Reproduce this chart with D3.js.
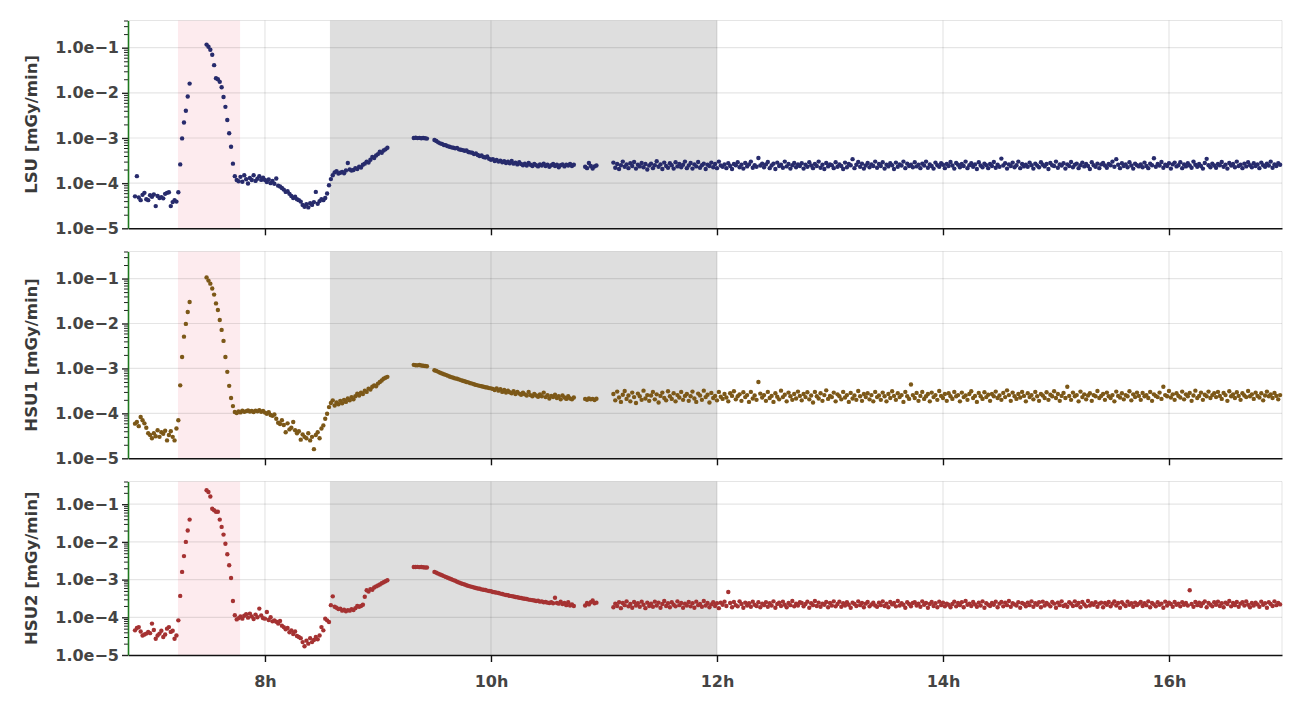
<!DOCTYPE html>
<html>
<head>
<meta charset="utf-8">
<script src="https://cdn.jsdelivr.net/npm/d3@7"></script>
<style>
  body { margin: 0; background: #fff; }
</style>
</head>
<body>
<svg id="chart" width="1300" height="707"></svg>
<script>
// one sample per minute, values in nGy/min (1 nGy = 1e-6 mGy)
// minute of day at which each uninterrupted run of samples begins
var segStart = [411, 449, 559, 570, 650, 665];

var lsu = [
  [51,143,48,42,55,61,44,42,54,50,56,31,52,47,49,46,58,61,63,31,38,42,39,63,260,980,2200,4000,8300,16000],
  [117000,105000,90000,70000,41000,21000,20000,17500,13300,8100,4900,2500,1270,640,270,143,117,
   110,138,107,150,122,98,130,117,150,112,125,143,118,132,117,
   106,120,100,112,97,127,88,84,78,72,64,66,58,52,47,50,44,42,
   39,33,30,34,29,36,33,38,64,35,40,44,42,47,
   59,90,123,150,173,185,164,170,178,165,190,280,200,190,195,215,205,230,222,255,270,300,285,330,380,360,410,440,500,470,530,560,610],
  [1000,1010,995,1005,990,1000,985,970],
  [900,860,800,760,740,700,690,660,640,620,610,590,600,560,550,540,520,530,490,480,
   470,440,455,420,400,410,380,370,390,345,330,340,310,325,300,315,290,305,280,300,
   275,310,270,285,260,290,265,250,270,245,280,255,240,265,250,235,260,245,270,240,
   255,230,250,265,240,255,225,250,260,235,255,245,265,240,255],
  [230,215,280,240,210,235,245],
  [285,220,265,205,250,300,230,260,215,275,240,295,210,255,235,280,225,265,200,245,
   270,215,250,305,230,260,205,285,240,220,275,250,210,290,235,265,225,255,300,215,
   245,280,210,260,235,295,220,250,270,205,255,240,285,225,265,215,300,245,230,260,
   215,275,240,205,265,250,290,225,255,210,280,235,260,300,220,250,230,360,245,270,
   225,260,295,215,245,270,205,285,240,255,220,300,235,265,210,250,280,225,260,240,
   275,210,255,230,290,245,215,265,240,300,220,255,205,280,235,260,250,215,290,230,
   260,240,205,285,225,265,250,340,215,255,295,230,270,210,245,280,225,260,240,300,
   220,265,240,290,210,255,235,275,250,205,285,230,260,245,300,215,270,240,255,225,
   290,235,255,215,270,245,300,220,260,240,210,285,250,230,275,255,215,265,240,295,
   245,210,280,255,225,265,240,300,215,250,275,230,260,205,290,245,225,270,250,215,
   265,240,295,220,255,230,350,245,275,210,260,240,285,225,250,300,215,265,235,255,
   230,285,250,210,270,245,225,290,255,235,265,205,280,250,240,300,220,260,245,275,
   210,260,240,295,225,255,270,215,250,285,235,265,240,205,290,250,230,270,215,260,
   280,245,220,265,250,300,230,340,255,215,275,240,260,225,290,245,210,270,250,235,
   260,225,285,240,215,270,250,355,230,265,245,295,220,255,240,275,210,260,285,235,
   250,290,215,260,235,275,245,220,300,255,230,265,240,210,280,345,250,225,270,245,
   220,265,250,295,230,255,210,280,245,265,225,300,240,255,215,270,235,290,250,225,
   275,240,260,215,285,250,230,270,245,300,220,260,240,275,255]
];

var hsu1 = [
  [59,64,52,83,70,60,48,36,33,28,36,31,42,30,38,35,41,25,33,40,30,25,46,70,420,1800,5100,9800,18000,30000],
  [106000,90000,77000,60000,44000,28000,20000,12000,7200,4100,1800,840,410,220,145,107,102,
   110,105,114,108,112,116,110,113,107,115,111,117,109,113,104,
   98,106,92,88,94,76,62,58,70,55,38,60,44,48,64,42,36,40,
   26,34,30,28,36,25,30,16,33,38,28,46,54,76,
   98,138,170,195,150,175,160,190,168,200,180,215,195,230,205,240,275,250,290,270,320,300,355,340,390,420,400,460,500,540,590,620,650],
  [1200,1180,1170,1190,1160,1150,1130,1120],
  [910,880,840,800,770,740,720,690,660,640,620,600,590,570,550,530,520,500,490,470,
   460,445,430,420,410,400,390,380,375,365,360,350,330,360,320,345,300,330,290,320,
   295,280,310,270,300,275,260,290,265,250,300,255,240,270,250,235,265,240,290,230,
   255,215,245,230,260,220,240,205,250,225,210,240,215,205,225],
  [210,200,215,205,210,198,212],
  [270,195,305,225,180,260,315,210,250,185,290,230,170,275,240,200,320,215,255,190,
   250,300,205,265,175,245,290,220,195,310,240,210,280,185,255,225,300,200,245,270,
   190,240,305,215,180,275,250,200,320,230,260,175,285,220,245,195,300,235,210,270,
   225,185,280,245,310,205,240,265,190,295,230,255,180,300,215,250,200,500,275,225,
   255,190,300,220,245,180,280,235,205,320,230,260,185,290,240,200,270,215,305,245,
   195,270,230,295,205,250,175,300,240,215,280,190,255,325,210,245,230,290,185,265,
   240,205,300,225,255,180,285,215,250,200,315,240,190,270,230,280,205,255,185,300,
   230,250,200,290,240,185,270,220,310,245,200,280,230,255,180,300,240,210,440,255,
   220,285,190,245,300,210,240,270,185,290,230,255,200,315,245,220,270,190,280,240,
   210,300,240,255,185,290,230,250,200,270,310,220,245,180,285,240,210,295,230,260,
   190,270,240,305,220,250,200,285,230,325,255,190,290,240,210,270,225,300,245,185,
   280,230,255,205,300,240,190,270,250,220,295,200,260,240,310,220,270,190,245,285,
   220,390,245,200,290,240,255,185,305,230,265,205,250,280,190,255,240,315,220,245,
   270,200,290,240,220,255,185,305,245,225,280,205,255,240,310,195,265,230,290,245,
   200,285,240,255,220,300,190,265,245,230,290,210,390,255,240,315,225,265,200,280,
   245,225,305,205,265,240,285,190,250,320,220,245,290,200,260,240,305,220,255,280,
   230,300,245,210,285,255,190,310,240,265,220,295,245,200,280,250,230,315,240,265,
   210,290,245,225,280,195,250,305,240,265,220,285,245,205,255]
];

var hsu2 = [
  [45,52,55,42,33,35,37,41,38,68,46,27,33,37,44,30,35,50,55,41,44,27,33,83,370,1600,4200,10000,20000,39000],
  [234000,210000,160000,76000,69000,63000,63000,39000,25000,15600,8900,4700,2400,1100,270,113,88,
   95,105,92,110,120,98,125,105,90,118,100,170,112,95,92,
   138,85,100,78,82,76,68,80,60,55,48,52,40,45,36,42,32,30,
   28,22,17,24,20,28,22,25,30,26,33,55,45,92,
   83,75,210,360,190,180,165,170,150,160,145,155,150,165,155,175,200,190,200,215,350,520,480,560,540,620,660,700,740,800,850,900,960],
  [2160,2150,2170,2140,2150,2120,2100,2090],
  [1600,1520,1440,1370,1300,1240,1180,1120,1070,1020,970,930,880,840,800,770,740,710,680,660,
   640,620,600,580,570,550,540,530,510,500,490,470,460,450,440,425,415,400,390,385,
   370,365,355,345,340,330,325,315,310,305,295,290,285,280,270,275,260,265,250,255,
   245,240,250,235,330,240,230,260,225,240,210,250,205,220,200],
  [205,240,220,250,280,235,245],
  [185,230,200,250,175,240,210,265,195,225,180,255,205,235,190,260,215,175,245,200,
   230,190,260,205,245,180,225,270,200,235,185,250,215,195,265,210,240,180,230,205,
   255,195,235,180,260,210,225,190,270,205,240,185,220,250,200,235,175,245,215,260,
   200,470,240,185,255,210,195,265,225,180,245,205,235,190,260,215,200,250,185,230,
   210,250,190,235,205,265,180,225,245,200,260,215,185,240,210,270,195,230,205,250,
   240,195,225,260,180,235,210,270,200,245,190,230,215,255,185,240,205,265,195,225,
   260,190,235,205,250,215,180,245,225,200,265,210,240,185,230,255,195,220,245,205,
   190,245,210,265,200,230,185,255,220,240,195,270,205,235,215,180,250,225,195,240,
   250,205,230,190,265,215,240,180,225,255,200,235,185,260,210,245,195,230,215,185,
   225,260,195,240,210,250,185,270,215,230,200,255,220,190,245,205,265,180,235,215,
   200,240,215,260,185,230,255,195,245,210,270,190,235,220,205,250,180,240,225,195,
   245,210,265,190,235,215,250,185,260,205,240,220,195,255,230,180,245,210,265,200,
   215,190,250,230,200,265,210,240,185,255,220,195,270,205,235,215,250,190,230,245,
   185,240,215,255,195,230,265,205,240,180,250,220,200,260,215,235,190,245,210,230,
   255,200,235,210,265,185,240,220,195,250,215,230,180,260,205,245,225,190,255,215,
   230,195,250,215,240,205,520,225,190,255,210,245,200,235,265,185,240,215,195,250,
   215,260,200,235,185,245,225,270,195,240,210,255,190,230,250,205,265,215,185,240,
   205,245,220,190,260,215,235,180,250,225,200,265,210,240,220]
];

var seriesNames = ["LSU [mGy/min]", "HSU1 [mGy/min]", "HSU2 [mGy/min]"];
var seriesColors = ["#272b6c", "#7c5818", "#a53232"];
var hourTicks = [8, 10, 12, 14, 16];
var hourLabels = ["8h", "10h", "12h", "14h", "16h"];
var decadeTicks = [1e-5, 1e-4, 1e-3, 1e-2, 1e-1];
var decadeLabels = ["1.0e\u22125", "1.0e\u22124", "1.0e\u22123", "1.0e\u22122", "1.0e\u22121"];
var pinkBand = [7.23, 7.78];   // hours
var greyBand = [8.575, 12.0];  // hours

var allSeries = [lsu, hsu1, hsu2];

function toPoints(segs) {
    var pts = [];
    segs.forEach(function(seg, s) {
        seg.forEach(function(v, i) {
            pts.push({hour: (segStart[s] + i) / 60, value: v * 1e-6});
        });
    });
    return pts;
}

var left = 128, right = 1282;
var panels = [
    {top: 20.5, bottom: 228.3},
    {top: 251.5, bottom: 458.3},
    {top: 481.5, bottom: 655}
];

var svg = d3.select("#chart");
var font = "DejaVu Sans";

var x = d3.scaleLinear()
    .domain([6.788, 17.0])
    .range([left, right]);

// minor ticks 2..9 in every decade, plus 0.2-0.4 above the top label
var minorTicks = [];
decadeTicks.forEach(function(d) {
    for (var k = 2; k <= 9; k++) {
        if (d * k <= 0.4 + 1e-9) minorTicks.push(d * k);
    }
});

panels.forEach(function(p, n) {
    var g = svg.append("g");

    var y = d3.scaleLog()
        .domain([1e-5, 0.4])
        .range([p.bottom, p.top]);

    // shaded periods
    g.append("rect")
        .attr("x", x(pinkBand[0]))
        .attr("y", p.top)
        .attr("width", x(pinkBand[1]) - x(pinkBand[0]))
        .attr("height", p.bottom - p.top)
        .attr("fill", "#fdebee");

    g.append("rect")
        .attr("x", x(greyBand[0]))
        .attr("y", p.top)
        .attr("width", x(greyBand[1]) - x(greyBand[0]))
        .attr("height", p.bottom - p.top)
        .attr("fill", "#dedede");

    // grid
    g.selectAll(".hgrid")
        .data(decadeTicks.slice(1))
        .enter().append("line")
        .attr("x1", left).attr("x2", right)
        .attr("y1", function(d) { return y(d); })
        .attr("y2", function(d) { return y(d); })
        .attr("stroke", "rgba(0,0,0,0.1)")
        .attr("stroke-width", 1.2);

    g.selectAll(".vgrid")
        .data(hourTicks)
        .enter().append("line")
        .attr("x1", function(d) { return x(d); })
        .attr("x2", function(d) { return x(d); })
        .attr("y1", p.top).attr("y2", p.bottom)
        .attr("stroke", "rgba(0,0,0,0.1)")
        .attr("stroke-width", 1.2);

    // frame top and right
    g.append("line")
        .attr("x1", left).attr("x2", right)
        .attr("y1", p.top).attr("y2", p.top)
        .attr("stroke", "rgba(0,0,0,0.1)");
    g.append("line")
        .attr("x1", right).attr("x2", right)
        .attr("y1", p.top).attr("y2", p.bottom)
        .attr("stroke", "rgba(0,0,0,0.1)");

    // samples
    g.selectAll(".dot")
        .data(toPoints(allSeries[n]))
        .enter().append("circle")
        .attr("cx", function(d) { return x(d.hour); })
        .attr("cy", function(d) { return y(d.value); })
        .attr("r", 2.2)
        .attr("fill", seriesColors[n]);

    // x axis
    var xAxis = g.append("g")
        .attr("transform", "translate(0," + p.bottom + ")")
        .call(d3.axisBottom(x)
            .tickValues(hourTicks)
            .tickSize(7)
            .tickSizeOuter(0)
            .tickPadding(14)
            .tickFormat(function(d, i) { return n == 2 ? hourLabels[i] : ""; }));
    xAxis.select(".domain").attr("stroke", "#111").attr("stroke-width", 1.6);
    xAxis.selectAll(".tick line").attr("stroke", "#111").attr("stroke-width", 1.4);
    xAxis.selectAll("text")
        .attr("font-family", font)
        .attr("font-weight", "bold")
        .attr("font-size", "16px")
        .attr("fill", "#444");

    // y axis: minor ticks then labelled decades
    var yMinor = g.append("g")
        .attr("transform", "translate(" + left + ",0)")
        .call(d3.axisLeft(y)
            .tickValues(minorTicks)
            .tickSize(4)
            .tickSizeOuter(0)
            .tickFormat(""));
    yMinor.select(".domain").remove();
    yMinor.selectAll(".tick line").attr("stroke", "#222");

    var yAxis = g.append("g")
        .attr("transform", "translate(" + left + ",0)")
        .call(d3.axisLeft(y)
            .tickValues(decadeTicks)
            .tickSize(6)
            .tickSizeOuter(0)
            .tickPadding(3)
            .tickFormat(function(d, i) { return decadeLabels[i]; }));
    yAxis.select(".domain").attr("stroke", "#1e7a1e").attr("stroke-width", 1.6);
    yAxis.selectAll(".tick line").attr("stroke", "#222").attr("stroke-width", 1.4);
    yAxis.selectAll("text")
        .attr("font-family", font)
        .attr("font-weight", "bold")
        .attr("font-size", "16px")
        .attr("fill", "#444");

    // y title
    g.append("text")
        .attr("transform", "translate(37," + ((p.top + p.bottom) / 2) + ") rotate(-90)")
        .attr("text-anchor", "middle")
        .attr("font-family", font)
        .attr("font-weight", "bold")
        .attr("font-size", "16.5px")
        .attr("fill", "#3a3a3a")
        .text(seriesNames[n]);
});
</script>
</body>
</html>
